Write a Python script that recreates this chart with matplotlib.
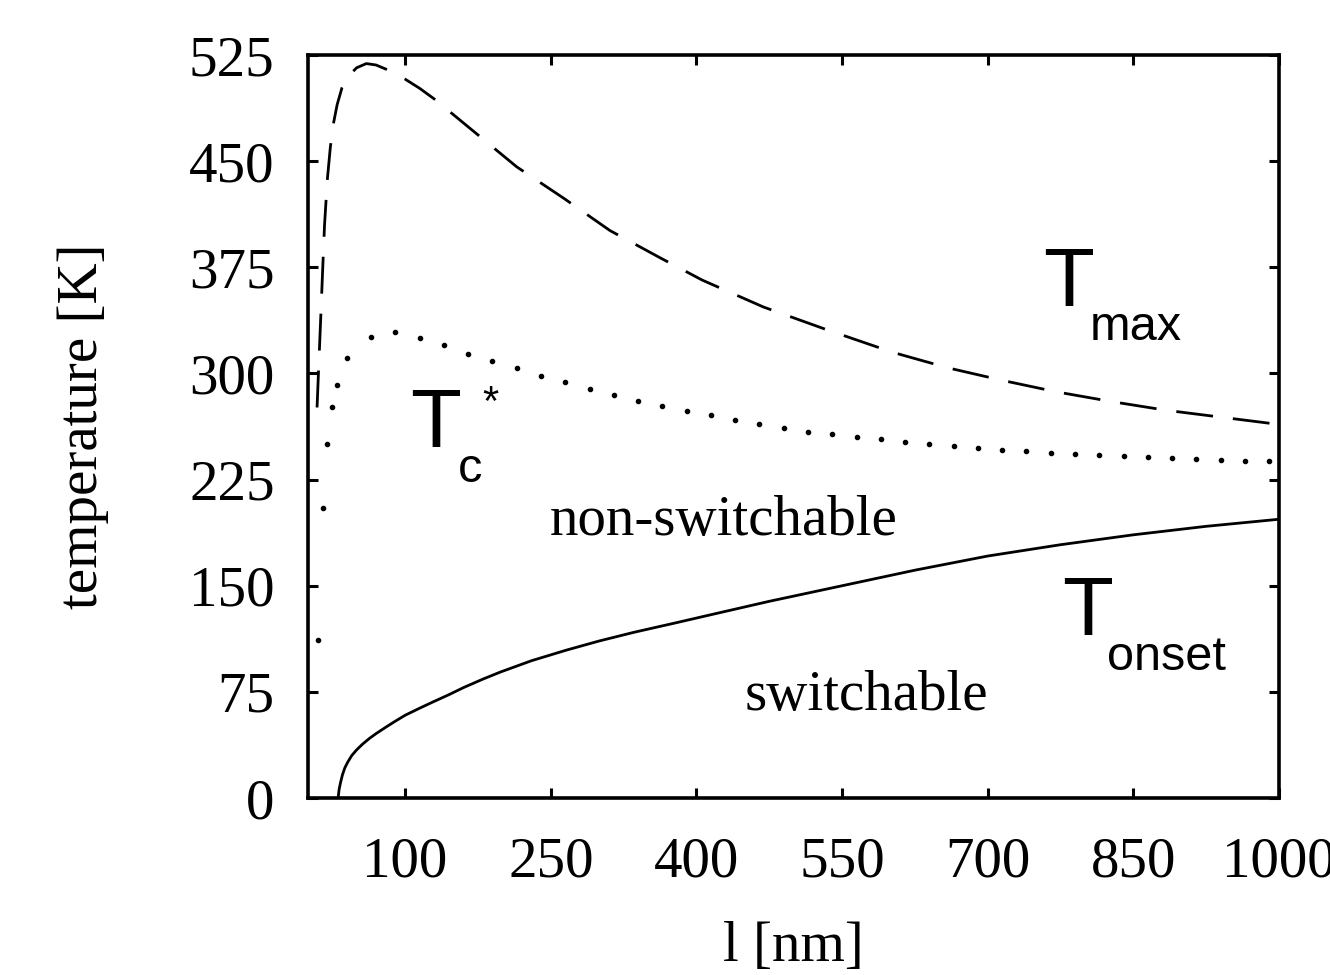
import numpy as np
import matplotlib
matplotlib.use("Agg")
import matplotlib.pyplot as plt

# T_max (dashed)
l_max = [9.3, 11, 13, 15, 17, 20, 23, 26, 30, 35, 40, 50, 60, 70, 84, 100,
         115, 130, 146, 169, 215, 263, 311, 362, 406, 469, 534, 602, 659, 716,
         771, 829, 884, 942, 1000]
T_max = [276, 305, 338, 372, 405, 438, 460, 476, 490, 502, 509, 516, 519,
         518, 514, 508, 501.5, 494, 485, 472, 446, 424, 401, 382, 366, 347,
         331, 315, 304, 295, 287, 280, 274, 269, 264]

# T_c* (dotted, drawn as dots)
l_c = [10.3, 15.4, 19.6, 24.7, 30, 40, 65, 90, 115, 140, 165, 190, 215, 240,
       265, 290, 315, 340, 365, 390, 415, 440, 465, 490, 515, 540, 565, 590,
       615, 640, 665, 690, 715, 740, 765, 790, 815, 840, 865, 890, 915, 940,
       965, 990]
T_c = [112, 205, 250, 276, 292, 311, 326, 329, 325, 320, 314, 309, 304, 298,
       294, 289, 285, 280.5, 277, 273.5, 270.5, 267, 264, 261.5, 259, 257,
       255, 253.5, 251.5, 250, 248.5, 247, 246, 245, 244, 243, 242.5, 241.5,
       241, 240, 239.5, 239, 238.5, 238]

# T_onset (solid)
l_on = [31, 32, 33.5, 35.5, 38, 41, 45, 50, 56, 63, 70, 80, 88, 100, 115, 129,
        145, 160, 180, 198, 230, 266, 300, 335, 380, 421, 475, 550, 625, 700,
        775, 850, 925, 1000]
T_on = [0, 6, 11, 16.5, 21.5, 25.5, 30, 34, 38, 42, 45.5, 50, 53.5, 58.5,
        63.5, 68, 73, 78, 84, 89, 97, 104.5, 111, 117, 124, 130.5, 139, 150,
        161, 171, 179, 186, 192, 197]

xticks = [100, 250, 400, 550, 700, 850, 1000]
yticks = [0, 75, 150, 225, 300, 375, 450, 525]

serif = "Liberation Serif"
sans = "Liberation Sans"

fig = plt.figure(figsize=(13.3, 9.75), dpi=100)
ax = fig.add_axes([0.2316, 0.1815, 0.7300, 0.762])

ax.plot(l_max, T_max, color="black", lw=2.0, dashes=(13.3, 7.2))
ax.plot(l_c, T_c, linestyle="none", marker="o", ms=3, color="black")
ax.plot(l_on, T_on, color="black", lw=2.0)

ax.set_xlim(0, 1000)
ax.set_ylim(0, 525)
ax.set_xticks(xticks)
ax.set_yticks(yticks)
ax.tick_params(direction="in", length=7, width=2.2, top=True, right=True,
               labelsize=41)
ax.tick_params(axis="y", pad=24)
ax.tick_params(axis="x", pad=28)
for lab in ax.get_xticklabels() + ax.get_yticklabels():
    lab.set_fontfamily(serif)
for s in ax.spines.values():
    s.set_linewidth(2.6)

ax.set_xlabel("l [nm]", fontsize=41, family=serif)
ax.set_ylabel("temperature [K]", fontsize=41, family=serif)
ax.xaxis.set_label_coords(0.5, -0.166)
ax.yaxis.set_label_coords(-0.205, 0.5)

# curve labels
ax.text(757, 348, "T", fontsize=60, family=sans)
ax.text(805, 324, "max", fontsize=35, family=sans)
ax.text(105, 248, "T", fontsize=60, family=sans)
ax.text(154, 223, "c", fontsize=35, family=sans)
ax.text(180, 271, "*", fontsize=30, family=sans)
ax.text(777, 115, "T", fontsize=60, family=sans)
ax.text(823, 90.5, "onset", fontsize=35, family=sans)

ax.text(249, 186, "non-switchable", fontsize=41, family=serif)
ax.text(450, 62, "switchable", fontsize=41, family=serif)

fig.savefig("out.png", dpi=100)
